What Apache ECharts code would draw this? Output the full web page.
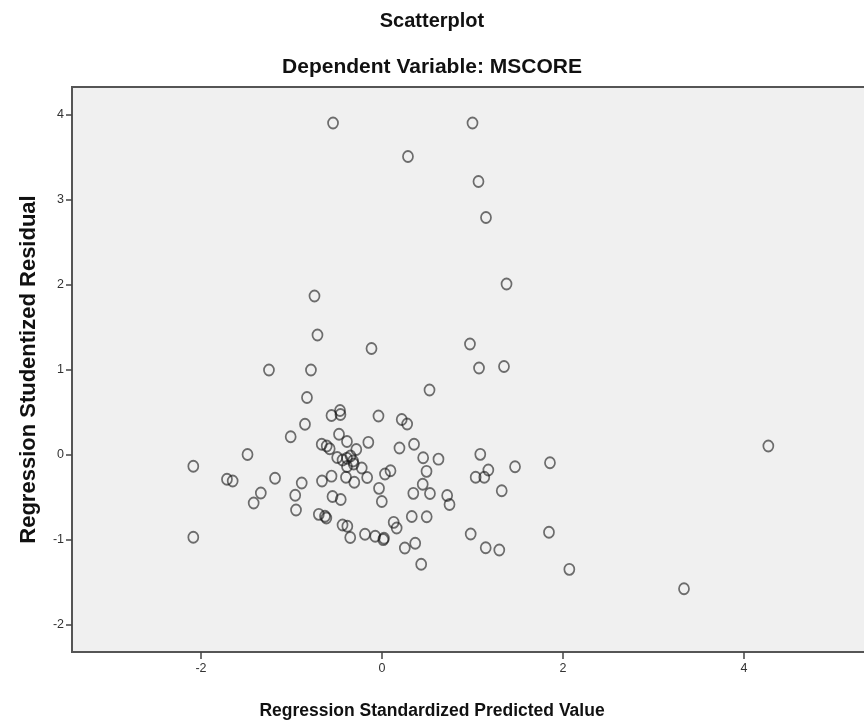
<!DOCTYPE html>
<html>
<head>
<meta charset="utf-8">
<script src="https://cdn.jsdelivr.net/npm/echarts@6/dist/echarts.min.js"></script>
<style>
html,body{margin:0;padding:0;background:#fff;}
#chart{width:864px;height:725px;}
</style>
</head>
<body>
<div id="chart"></div>
<script>
// Regression Standardized Predicted Value (x) and Regression Studentized Residual (y)
const predictedValues = [
 -0.541, 1.000, 0.287, 1.066, 1.149, 1.376, -0.746, -0.713, -0.116, 0.972,
 -1.249, -0.785, 1.072, 1.348, 0.525, -0.829, -0.464, -0.459, -0.558, -0.039,
 -0.851, 0.218, 0.278, -1.009, -0.475, -0.151, -0.387, -0.666, -0.611, -0.578,
 0.354, -0.284, -1.486, -0.495, -0.436, -0.387, -0.348, -0.320, 0.455, 0.624,
 1.086, 4.269, -2.085, -1.182, -1.713, -1.650, -0.887, -0.663, -0.558, -0.398,
 -0.306, -0.164, 0.033, 0.094, -0.224, -0.387, -0.313, 0.492, 1.035, 1.130,
 1.175, 1.470, 1.856, -1.339, -1.418, -0.959, -0.950, -0.547, -0.456, -0.033,
 -0.002, 0.346, 0.450, 0.530, 0.720, 0.746, 1.323, -0.698, -0.630, -0.615,
 -0.436, -0.383, -0.351, -0.188, -0.075, 0.014, 0.022, 0.129, 0.162, 0.329,
 0.494, 0.252, 0.367, 0.433, -2.085, 0.980, 1.146, 1.296, 1.845, 2.070,
 3.337, 0.193
];
const studentizedResiduals = [
 3.906, 3.906, 3.512, 3.218, 2.794, 2.012, 1.871, 1.412, 1.253, 1.306,
 1.000, 1.000, 1.024, 1.041, 0.765, 0.676, 0.524, 0.476, 0.465, 0.459,
 0.361, 0.418, 0.365, 0.215, 0.244, 0.149, 0.159, 0.127, 0.106, 0.074,
 0.126, 0.065, 0.006, -0.029, -0.059, -0.039, -0.012, -0.071, -0.032, -0.049,
 0.008, 0.106, -0.133, -0.274, -0.286, -0.306, -0.329, -0.306, -0.249, -0.262,
 -0.321, -0.265, -0.224, -0.186, -0.153, -0.135, -0.106, -0.192, -0.262, -0.262,
 -0.176, -0.138, -0.091, -0.447, -0.565, -0.474, -0.647, -0.488, -0.524, -0.392,
 -0.547, -0.451, -0.344, -0.453, -0.476, -0.582, -0.420, -0.698, -0.721, -0.741,
 -0.824, -0.839, -0.971, -0.933, -0.956, -0.996, -0.980, -0.792, -0.859, -0.724,
 -0.726, -1.094, -1.039, -1.285, -0.968, -0.929, -1.091, -1.118, -0.909, -1.345,
 -1.573, 0.082
];
const xTickValues = [-2, 0, 2, 4];
const yTickValues = [-2, -1, 0, 1, 2, 3, 4];

const points = predictedValues.map((x, i) => [x, studentizedResiduals[i]]);

const chart = echarts.init(document.getElementById('chart'), null, {renderer: 'canvas'});
const titleFont = {fontFamily: 'Liberation Sans', fontWeight: 'bold', fontSize: 20, color: '#111'};
chart.setOption({
  animation: false,
  backgroundColor: '#ffffff',
  title: [
    {text: 'Scatterplot', left: 'center', top: 6, textStyle: titleFont},
    {text: 'Dependent Variable: MSCORE', left: 'center', top: 52, textStyle: Object.assign({}, titleFont, {fontSize: 21})},
    {text: 'Regression Standardized Predicted Value', left: 'center', top: 697, textStyle: Object.assign({}, titleFont, {fontSize: 17.5})}
  ],
  grid: {
    left: 72, top: 87, width: 800, height: 565,
    outerBoundsMode: 'none',
    containLabel: false,
    show: true, backgroundColor: '#f0f0f0', borderColor: '#555', borderWidth: 2
  },
  xAxis: {
    type: 'value',
    min: (72 - 382) / 90.5,
    max: (872 - 382) / 90.5,
    splitLine: {show: false},
    axisLine: {show: true, onZero: false, lineStyle: {color: '#555', width: 2}},
    axisTick: {show: true, length: 7, customValues: xTickValues, lineStyle: {color: '#444', width: 1.5}},
    axisLabel: {customValues: xTickValues, color: '#333', fontSize: 12.5, fontFamily: 'Liberation Sans', margin: 10,
      formatter: v => String(v)}
  },
  yAxis: {
    type: 'value',
    min: (455 - 652) / 85,
    max: (455 - 87) / 85,
    name: 'Regression Studentized Residual',
    nameLocation: 'middle',
    nameRotate: 90,
    nameGap: 32,
    nameTextStyle: Object.assign({}, titleFont, {fontSize: 22}),
    splitLine: {show: false},
    axisLine: {show: true, onZero: false, lineStyle: {color: '#555', width: 2}},
    axisTick: {show: true, length: 6, customValues: yTickValues, lineStyle: {color: '#444', width: 1.5}},
    axisLabel: {customValues: yTickValues, color: '#333', fontSize: 12.5, fontFamily: 'Liberation Sans', margin: 8,
      formatter: v => String(v)}
  },
  series: [{
    type: 'scatter',
    data: points,
    symbol: 'circle',
    symbolSize: [10, 11],
    itemStyle: {color: 'rgba(0,0,0,0)', borderColor: 'rgba(20,20,20,0.75)', borderWidth: 1.8}
  }]
});
</script>
</body>
</html>
